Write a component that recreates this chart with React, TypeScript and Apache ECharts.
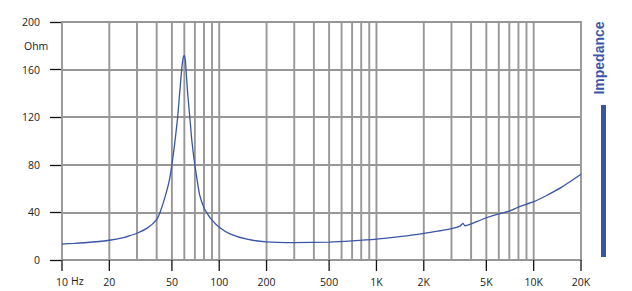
import React, { useEffect, useRef } from "react";
import * as echarts from "echarts";

const freqs = [10, 12, 15, 20, 25, 27, 30, 35, 40, 42, 45, 48, 50, 52, 54.4, 56, 57.7, 59, 60, 61, 61.5, 63, 65, 67, 70, 75, 80, 85, 90, 100, 117, 150, 200, 300, 500, 700, 1000, 1500, 2200, 2600, 3000, 3400, 3550, 3650, 3800, 4000, 5000, 6000, 7000, 8000, 10000, 12000, 15000, 20000];
const ohms = [13.4, 14, 14.9, 16.6, 19, 20.5, 22.5, 27, 34, 40, 52, 66, 80, 97, 120, 140, 160, 170, 172, 167, 160, 140, 120, 100, 80, 55, 44, 38, 33.5, 27.5, 22, 17.5, 15.2, 14.6, 15, 16, 17.5, 20, 23.3, 24.8, 26.3, 28.5, 30.8, 28.8, 29.3, 30.3, 35.5, 38.8, 41, 44.5, 49, 54, 61, 72];

const gridFreqs = [10, 20, 30, 40, 50, 60, 70, 80, 90, 100, 200, 300, 400, 500, 600, 700, 800, 900, 1000, 2000, 3000, 4000, 5000, 6000, 7000, 8000, 9000, 10000, 20000];
const tickFreqs = [10, 20, 50, 100, 200, 500, 1000, 2000, 5000, 10000, 20000];
const tickLabels = ["10", "20", "50", "100", "200", "500", "1K", "2K", "5K", "10K", "20K"];
const yTicks = [0, 40, 80, 120, 160, 200];

const GRID_COLOR = "#979797";
const BLUE = "#3a55a8";
const FONT = "Open Sans";

export default function App() {
  const ref = useRef<HTMLDivElement>(null);
  useEffect(() => {
    const chart = echarts.init(ref.current!, null, { renderer: "svg" });
    chart.setOption({
      animation: false,
      grid: { left: 62, top: 22, right: 51, bottom: 31 },
      xAxis: {
        type: "log",
        logBase: 10,
        min: 10,
        max: 20000,
        axisLine: { show: false },
        axisTick: { show: false },
        axisLabel: { show: false },
        splitLine: { show: false },
      },
      yAxis: {
        type: "value",
        min: yTicks[0],
        max: yTicks[yTicks.length - 1],
        interval: 40,
        axisLine: { show: false },
        axisTick: { show: true, length: 12, lineStyle: { color: "#111", width: 1.3 } },
        axisLabel: { margin: 22, fontSize: 10.5, color: "#222", fontFamily: FONT },
        splitLine: { lineStyle: { color: GRID_COLOR, width: 1.9 } },
      },
      series: [
        {
          type: "custom",
          data: gridFreqs.map((f) => [f]),
          silent: true,
          z: 1,
          renderItem: (params: any, api: any) => {
            const f = api.value(0);
            const p0 = api.coord([f, 0]);
            const p1 = api.coord([f, 200]);
            return {
              type: "line",
              shape: { x1: p0[0], y1: p0[1] + 0.9, x2: p1[0], y2: p1[1] - 0.9 },
              style: { stroke: GRID_COLOR, lineWidth: 1.9 },
            };
          },
        },
        {
          type: "custom",
          data: tickFreqs.map((f) => [f]),
          silent: true,
          z: 3,
          renderItem: (params: any, api: any) => {
            const f = api.value(0);
            const p0 = api.coord([f, 0]);
            return {
              type: "group",
              children: [
                {
                  type: "line",
                  shape: { x1: p0[0], y1: p0[1], x2: p0[0], y2: p0[1] + 11 },
                  style: { stroke: "#111", lineWidth: 1.3 },
                },
                {
                  type: "text",
                  x: p0[0],
                  y: p0[1] + 22,
                  style: {
                    text: tickLabels[params.dataIndex],
                    align: "center",
                    verticalAlign: "middle",
                    fontSize: 10.5,
                    fill: "#222",
                    fontFamily: FONT,
                  },
                },
              ],
            };
          },
        },
        {
          type: "line",
          data: freqs.map((f, i) => [f, ohms[i]]),
          showSymbol: false,
          smooth: 0.2,
          z: 4,
          lineStyle: { color: BLUE, width: 1.3 },
        },
      ],
      graphic: [
        {
          type: "text",
          left: 24,
          top: 40,
          style: { text: "Ohm", fontSize: 10.5, fill: "#222", fontFamily: FONT },
        },
        {
          type: "text",
          left: 71,
          top: 275,
          style: { text: "Hz", fontSize: 10.5, fill: "#222", fontFamily: FONT },
        },
        {
          type: "text",
          x: 599,
          y: 58,
          rotation: Math.PI / 2,
          style: {
            text: "Impedance",
            fontSize: 14,
            fontWeight: "bold",
            fill: BLUE,
            fontFamily: "Liberation Sans Narrow, Liberation Sans",
            align: "center",
            verticalAlign: "middle",
          },
        },
        {
          type: "rect",
          shape: { x: 601, y: 105, width: 5, height: 152 },
          style: { fill: BLUE },
        },
      ],
    });
    return () => chart.dispose();
  }, []);
  return <div ref={ref} style={{ width: 632, height: 291, position: "absolute", left: 0, top: 0 }} />;
}
